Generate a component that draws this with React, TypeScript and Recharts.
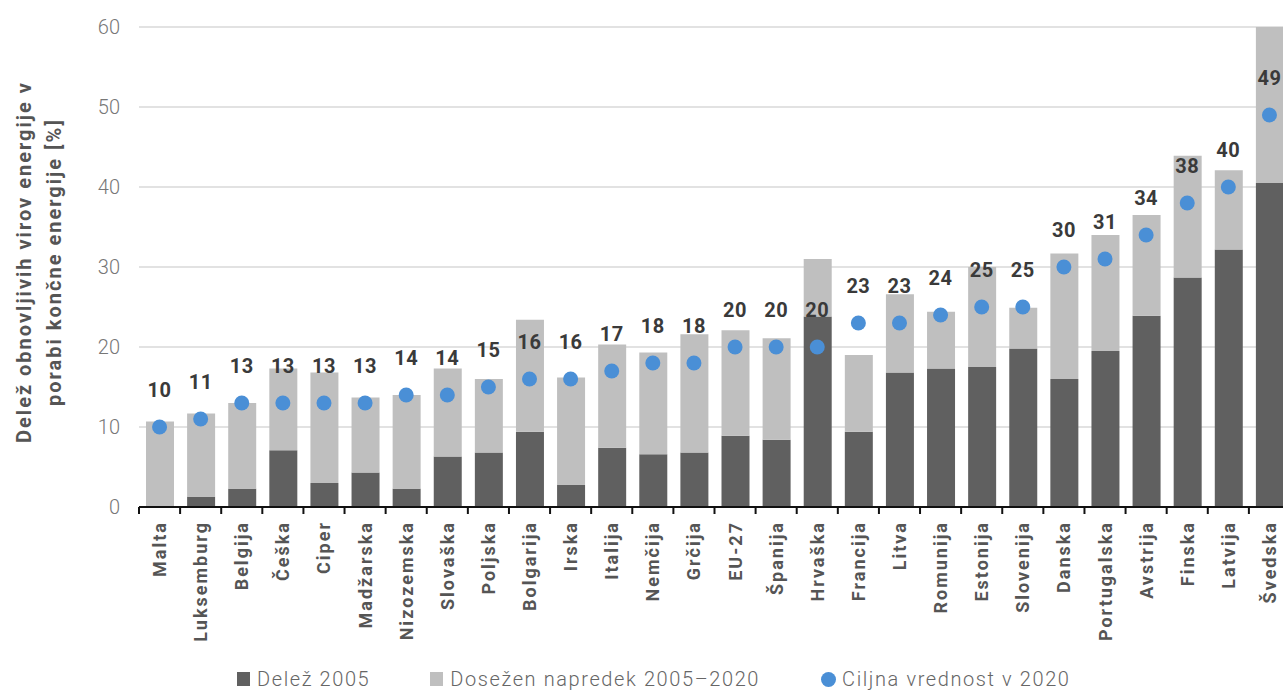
import React from "react";
import {
  ComposedChart,
  Bar,
  Line,
  XAxis,
  YAxis,
  CartesianGrid,
  Legend,
  LabelList,
} from "recharts";

const categories = [
  "Malta", "Luksemburg", "Belgija", "Češka", "Ciper", "Madžarska", "Nizozemska",
  "Slovaška", "Poljska", "Bolgarija", "Irska", "Italija", "Nemčija", "Grčija",
  "EU-27", "Španija", "Hrvaška", "Francija", "Litva", "Romunija", "Estonija",
  "Slovenija", "Danska", "Portugalska", "Avstrija", "Finska", "Latvija", "Švedska",
];

const share2005 = [
  0, 1.3, 2.3, 7.1, 3.0, 4.3, 2.3, 6.3, 6.8, 9.4, 2.8, 7.4, 6.6, 6.8,
  8.9, 8.4, 23.8, 9.4, 16.8, 17.3, 17.5, 19.8, 16.0, 19.5, 23.9, 28.7, 32.2, 40.5,
];

const progress = [
  10.7, 10.4, 10.7, 10.2, 13.8, 9.4, 11.7, 11.0, 9.2, 14.0, 13.4, 12.9, 12.7, 14.8,
  13.2, 12.7, 7.2, 9.6, 9.8, 7.1, 12.5, 5.1, 15.7, 14.5, 12.6, 15.2, 9.9, 19.5,
];

const target2020 = [
  10, 11, 13, 13, 13, 13, 14, 14, 15, 16, 16, 17, 18, 18,
  20, 20, 20, 23, 23, 24, 25, 25, 30, 31, 34, 38, 40, 49,
];

const yTicks = [0, 10, 20, 30, 40, 50, 60];

const seriesNames = {
  share2005: "Delež 2005",
  progress: "Dosežen napredek 2005–2020",
  target: "Ciljna vrednost v 2020",
};

const yTitle = ["Delež obnovljivih virov energije v", "porabi končne energije [%]"];

const data = categories.map((name, i) => ({
  name,
  share2005: share2005[i],
  progress: progress[i],
  target: target2020[i],
}));

const DARK = "#606060";
const LIGHT = "#bfbfbf";
const BLUE = "#4a8fd6";
const FONT = "Roboto, 'Noto Sans', sans-serif";

const XTick = (props: any) => {
  const { x, y, payload } = props;
  const half = payload && typeof payload.offset === "number" ? payload.offset : 20.5;
  return (
    <g>
      <line x1={x - half} x2={x - half} y1={y} y2={y + 7} stroke="#111" strokeWidth={2} />
      <text
        transform={`translate(${x},${y + 14}) rotate(-90)`}
        textAnchor="end"
        dy="0.36em"
        fontFamily={FONT}
        fontWeight={700}
        fontSize={18}
        letterSpacing={2}
        fill="#555"
      >
        {payload.value}
      </text>
    </g>
  );
};

const ValueLabel = (props: any) => {
  const { x, y, value } = props;
  return (
    <text
      x={x}
      y={y - 37}
      textAnchor="middle"
      dominantBaseline="central"
      fontFamily={FONT}
      fontWeight={700}
      fontSize={20}
      letterSpacing={0.5}
      fill="#3a3a3a"
    >
      {value}
    </text>
  );
};

const YTitle = () => (
  <g>
    <text
      transform="translate(31,262) rotate(-90)"
      textAnchor="middle"
      fontFamily={FONT}
      fontWeight={700}
      fontSize={20}
      letterSpacing={2}
      fill="#555"
    >
      {yTitle[0]}
    </text>
    <text
      transform="translate(61,262) rotate(-90)"
      textAnchor="middle"
      fontFamily={FONT}
      fontWeight={700}
      fontSize={20}
      letterSpacing={2}
      fill="#555"
    >
      {yTitle[1]}
    </text>
  </g>
);

const LegendContent = () => {
  const textStyle: React.CSSProperties = {
    fontFamily: FONT,
    fontWeight: 300,
    fontSize: 20,
    color: "#666",
    letterSpacing: "1.6px",
    lineHeight: "20px",
    whiteSpace: "nowrap",
  };
  return (
    <div style={{ display: "flex", alignItems: "center", paddingLeft: 237 }}>
      <span style={{ width: 13, height: 14, background: DARK, display: "inline-block", marginRight: 7 }} />
      <span style={{ ...textStyle, marginRight: 60 }}>{seriesNames.share2005}</span>
      <span style={{ width: 13, height: 14, background: LIGHT, display: "inline-block", marginRight: 7 }} />
      <span style={{ ...textStyle, marginRight: 61 }}>{seriesNames.progress}</span>
      <span style={{ width: 15, height: 15, borderRadius: "50%", background: BLUE, display: "inline-block", marginRight: 6 }} />
      <span style={textStyle}>{seriesNames.target}</span>
    </div>
  );
};

export default function App() {
  return (
    <div
      style={{
        position: "absolute",
        left: 0,
        top: 0,
        width: 1283,
        height: 691,
        overflow: "hidden",
        background: "#fff",
      }}
    >
      <ComposedChart
        width={1300}
        height={691}
        data={data}
        margin={{ top: 27, right: 10, left: 0, bottom: 0 }}
      >
        <CartesianGrid vertical={false} stroke="#d9d9d9" strokeWidth={1.5} />
        <XAxis
          dataKey="name"
          interval={0}
          height={184}
          tickLine={false}
          tickSize={0}
          tickMargin={0}
          axisLine={{ stroke: "#111", strokeWidth: 2 }}
          tick={<XTick />}
        />
        <YAxis
          width={139}
          domain={[0, 60]}
          ticks={yTicks}
          axisLine={false}
          tickLine={false}
          tickSize={0}
          tickMargin={19}
          tick={{ fontFamily: FONT, fontWeight: 300, fontSize: 20, fill: "#777" }}
          label={{ content: () => <YTitle /> }}
        />
        <Bar dataKey="share2005" name={seriesNames.share2005} stackId="a" fill={DARK} barSize={28} isAnimationActive={false} />
        <Bar dataKey="progress" name={seriesNames.progress} stackId="a" fill={LIGHT} barSize={28} isAnimationActive={false} />
        <Line
          dataKey="target"
          name={seriesNames.target}
          stroke="none"
          dot={{ r: 7.5, fill: BLUE, stroke: "none" }}
          activeDot={false}
          isAnimationActive={false}
        >
          <LabelList dataKey="target" content={<ValueLabel />} />
        </Line>
        <Legend
          layout="horizontal"
          verticalAlign="middle"
          align="center"
          wrapperStyle={{ position: "absolute", left: 0, top: 669, width: 1283 }}
          content={<LegendContent />}
        />
      </ComposedChart>
    </div>
  );
}
